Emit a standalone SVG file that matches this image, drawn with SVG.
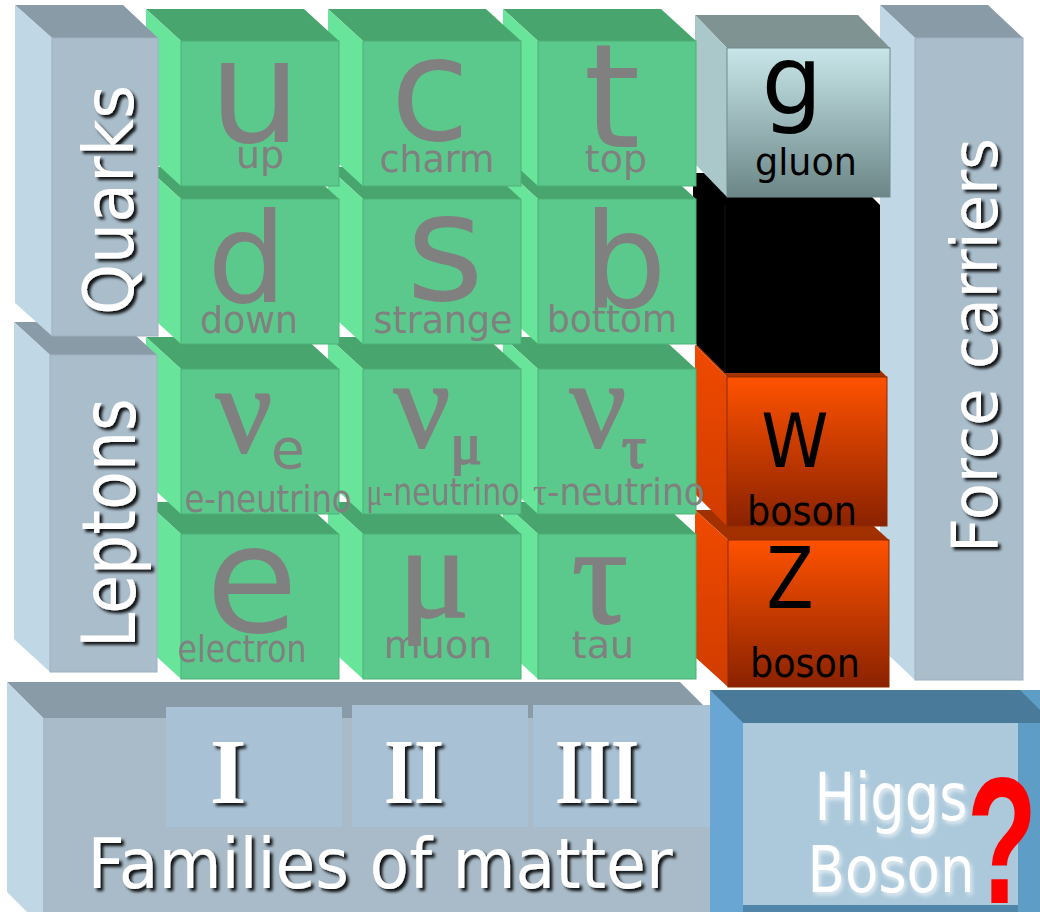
<svg xmlns="http://www.w3.org/2000/svg" width="1040" height="912" viewBox="0 0 1040 912">
<style>
.gt{fill:#48A56E}
.gl{fill:#69E49B}
.gf{fill:#5BC98B;stroke:#4CAF77;stroke-width:1}
.bt{fill:#8A9BA8}
.bl{fill:#C0D8E6}
.bf{fill:#AABDCB;stroke:#9DB0BE;stroke-width:1}
.sym{font-family:"DejaVu Sans",sans-serif;fill:#808080;text-anchor:middle}
.grk{font-family:"Liberation Serif","DejaVu Serif",serif;fill:#808080;stroke:#808080;stroke-width:2;text-anchor:middle}
.lab{font-family:"DejaVu Sans",sans-serif;font-size:38px;fill:#808080;text-anchor:middle}
.wt{font-family:"DejaVu Sans",sans-serif;fill:#fff;text-anchor:middle}
.rom{font-family:"Liberation Serif",serif;font-weight:bold;font-size:94px;fill:#fff;text-anchor:middle}
.bk{font-family:"DejaVu Sans",sans-serif;fill:#000;text-anchor:middle}
.sub{fill:#A9C1D4}
</style>
<defs>
<filter id="sh" x="-10%" y="-10%" width="130%" height="130%">
<feDropShadow dx="3" dy="3" stdDeviation="1.5" flood-color="#000" flood-opacity="0.9"/>
</filter>
<filter id="hs" x="-10%" y="-10%" width="130%" height="130%">
<feDropShadow dx="2" dy="3" stdDeviation="2" flood-color="#E6EEF3" flood-opacity="0.9"/>
</filter>
<linearGradient id="glf" x1="0" y1="0" x2="0" y2="1">
<stop offset="0" stop-color="#C8E6E9"/><stop offset="1" stop-color="#6C8687"/>
</linearGradient>
<linearGradient id="orf" x1="0" y1="0" x2="0" y2="1">
<stop offset="0" stop-color="#FF5200"/><stop offset="1" stop-color="#8A2200"/>
</linearGradient>
<linearGradient id="orl" x1="0" y1="0" x2="0" y2="1">
<stop offset="0" stop-color="#F04A00"/><stop offset="1" stop-color="#D03C00"/>
</linearGradient>
<g id="gc">
<polygon class="gt" points="-35,-32 123,-32 158,0 0,0"/>
<polygon class="gl" points="-35,-32 0,0 0,145 -35,113"/>
<rect class="gf" x="0" y="0" width="158" height="145"/>
</g>
</defs>

<!-- Families of matter -->
<g id="families">
<polygon class="bt" points="7,682 680,682 716,718 43,718"/>
<polygon class="bl" points="7,682 43,718 43,912 27,912 7,892"/>
<rect x="43" y="718" width="672" height="200" fill="#A9BBC8"/>
<rect class="sub" x="166" y="707" width="176" height="120"/>
<rect class="sub" x="352" y="705" width="176" height="122"/>
<rect class="sub" x="533" y="705" width="177" height="122"/>
<g filter="url(#sh)">
<text class="rom" x="228" y="803">I</text>
<text class="rom" x="414" y="803" textLength="60" lengthAdjust="spacingAndGlyphs">II</text>
<text class="rom" x="597" y="803" textLength="84" lengthAdjust="spacingAndGlyphs">III</text>
<text class="wt" x="380" y="888" font-size="70" textLength="585" lengthAdjust="spacingAndGlyphs">Families of matter</text>
</g>
</g>

<!-- Higgs -->
<g id="higgs">
<rect x="710" y="690" width="330" height="222" fill="#5E9DC6"/>
<polygon points="710,690 1020,690 1040,710 1040,723 743,723" fill="#4A7A99"/>
<polygon points="710,690 743,723 743,912 710,912" fill="#69A6D3"/>
<rect x="743" y="723" width="275" height="182" fill="#ABC9DB"/>
<rect x="743" y="905" width="275" height="7" fill="#4F86AA"/>
<g filter="url(#hs)">
<text class="wt" x="891" y="820" font-size="66" textLength="153" lengthAdjust="spacingAndGlyphs">Higgs</text>
<text class="wt" x="891" y="892" font-size="64" textLength="167" lengthAdjust="spacingAndGlyphs">Boson</text>
</g>
<text transform="translate(1002,903) scale(0.64,1)" font-family="Liberation Sans, Arial, sans-serif" font-weight="bold" font-size="180" fill="#FF0000" text-anchor="middle">?</text>
</g>

<!-- Force carriers -->
<g id="force">
<polygon class="bt" points="880,5 988,5 1023,38 915,38"/>
<polygon class="bl" points="880,5 915,38 915,680 880,647"/>
<rect class="bf" x="915" y="38" width="108" height="642"/>
<g filter="url(#sh)">
<text class="wt" transform="translate(997,345.5) rotate(-90)" font-size="64" textLength="415" lengthAdjust="spacingAndGlyphs">Force carriers</text>
</g>
</g>

<!-- Z boson -->
<g id="z">
<polygon points="695,510 856,510 889,540 728,540" fill="#A33100"/>
<polygon points="695,510 728,540 728,687 695,657" fill="url(#orl)"/>
<rect x="728" y="540" width="161" height="147" fill="url(#orf)" stroke="#8A2A00" stroke-width="1"/>
<text class="bk" transform="translate(790,608) scale(0.8,1)" font-size="86">Z</text>
<text class="bk" x="805" y="677" font-size="40" textLength="110" lengthAdjust="spacingAndGlyphs">boson</text>
</g>

<!-- W boson -->
<g id="w">
<polygon points="695,345 855,345 887,377 727,377" fill="#A33100"/>
<polygon points="695,345 727,377 727,526 695,494" fill="url(#orl)"/>
<rect x="727" y="377" width="160" height="149" fill="url(#orf)" stroke="#8A2A00" stroke-width="1"/>
<text class="bk" transform="translate(795,467) scale(0.92,1)" font-size="74">W</text>
<text class="bk" x="802" y="525" font-size="40" textLength="110" lengthAdjust="spacingAndGlyphs">boson</text>
</g>

<!-- black box -->
<g id="black">
<polygon points="693,173 848,173 880,205 880,373 725,373 693,341" fill="#000"/>
<line x1="725" y1="205" x2="725" y2="373" stroke="#151515" stroke-width="1"/>
</g>

<!-- gluon -->
<g id="gluon">
<polygon points="695,15 858,15 890,48 727,48" fill="#7F9393"/>
<polygon points="695,15 727,48 727,197 695,164" fill="#AAC7CA"/>
<rect x="727" y="48" width="163" height="149" fill="url(#glf)" stroke="#6E8A8B" stroke-width="1"/>
<text class="bk" x="792" y="114" font-size="96">g</text>
<text class="bk" x="806" y="175" font-size="38" textLength="102" lengthAdjust="spacingAndGlyphs">gluon</text>
</g>

<!-- Row 4 -->
<g id="tau" transform="translate(538,534)">
<use href="#gc"/>
<text class="grk" x="62" y="89" font-size="140">τ</text>
<text class="lab" x="65" y="124">tau</text>
</g>
<g id="muon" transform="translate(363,534)">
<use href="#gc"/>
<text class="grk" x="71" y="83" font-size="132">μ</text>
<text class="lab" x="75" y="124">muon</text>
</g>
<g id="electron" transform="translate(181,534)">
<use href="#gc"/>
<text class="sym" x="71" y="98" font-size="150">e</text>
<text class="lab" x="61" y="128" textLength="129" lengthAdjust="spacingAndGlyphs">electron</text>
</g>

<!-- Row 3 -->
<g id="nutau" transform="translate(538,369)">
<use href="#gc"/>
<text class="grk" x="60" y="78" font-size="125">ν</text>
<text class="grk" x="96" y="98" font-size="60" stroke-width="0.5">τ</text>
<text class="lab" x="81" y="136" textLength="172" lengthAdjust="spacingAndGlyphs"><tspan font-family="Liberation Serif, serif">τ</tspan>-neutrino</text>
</g>
<g id="numu" transform="translate(363,369)">
<use href="#gc"/>
<text class="grk" x="59" y="78" font-size="125">ν</text>
<text class="grk" x="103" y="94" font-size="58" stroke-width="0.5">μ</text>
<text class="lab" x="80" y="136" textLength="153" lengthAdjust="spacingAndGlyphs"><tspan font-family="Liberation Serif, serif">μ</tspan>-neutrino</text>
</g>
<g id="nue" transform="translate(181,369)">
<use href="#gc"/>
<text class="grk" x="63" y="83" font-size="125">ν</text>
<text class="sym" x="107" y="99" font-size="55">e</text>
<text class="lab" x="87" y="143" textLength="167" lengthAdjust="spacingAndGlyphs">e-neutrino</text>
</g>

<!-- Row 2 -->
<g id="bottom" transform="translate(538,199)">
<use href="#gc"/>
<text class="sym" x="87" y="108" font-size="132">b</text>
<text class="lab" x="74" y="133" textLength="130" lengthAdjust="spacingAndGlyphs">bottom</text>
</g>
<g id="strange" transform="translate(363,199)">
<use href="#gc"/>
<text class="sym" x="82" y="101" font-size="150">s</text>
<text class="lab" x="80" y="134" textLength="139" lengthAdjust="spacingAndGlyphs">strange</text>
</g>
<g id="down" transform="translate(181,199)">
<use href="#gc"/>
<text class="sym" x="66" y="103" font-size="125">d</text>
<text class="lab" x="68" y="134" textLength="98" lengthAdjust="spacingAndGlyphs">down</text>
</g>

<!-- Row 1 -->
<g id="top" transform="translate(538,41)">
<use href="#gc"/>
<text class="sym" x="74" y="106" font-size="145">t</text>
<text class="lab" x="78" y="131">top</text>
</g>
<g id="charm" transform="translate(363,41)">
<use href="#gc"/>
<text class="sym" x="67" y="99" font-size="145">c</text>
<text class="lab" x="74" y="131" textLength="115" lengthAdjust="spacingAndGlyphs">charm</text>
</g>
<g id="up" transform="translate(181,41)">
<use href="#gc"/>
<text class="sym" x="74" y="101" font-size="145">u</text>
<text class="lab" x="79" y="127">up</text>
</g>

<!-- Leptons -->
<g id="leptons">
<polygon class="bt" points="14,322 121,322 157,355 50,355"/>
<polygon class="bl" points="14,322 50,355 50,672 14,639"/>
<rect class="bf" x="50" y="355" width="107" height="317"/>
<g filter="url(#sh)">
<text class="wt" transform="translate(135,523) rotate(-90)" font-size="75" textLength="250" lengthAdjust="spacingAndGlyphs">Leptons</text>
</g>
</g>

<!-- Quarks -->
<g id="quarks">
<polygon class="bt" points="15,5 123,5 158,38 52,38"/>
<polygon class="bl" points="15,5 52,38 52,336 15,303"/>
<rect class="bf" x="52" y="38" width="106" height="298"/>
<g filter="url(#sh)">
<text class="wt" transform="translate(133,200) rotate(-90)" font-size="70" textLength="230" lengthAdjust="spacingAndGlyphs">Quarks</text>
</g>
</g>

<g id="connectors"></g>
</svg>
